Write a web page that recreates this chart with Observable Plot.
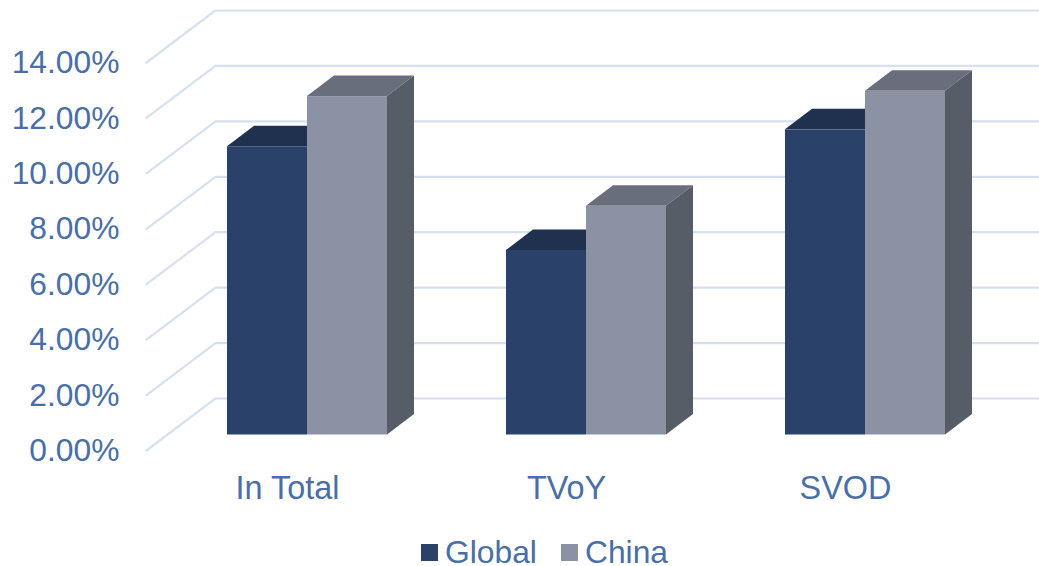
<!DOCTYPE html>
<html>
<head>
<meta charset="utf-8">
<script src="https://cdn.jsdelivr.net/npm/d3@7"></script>
<script src="https://cdn.jsdelivr.net/npm/@observablehq/plot@0.6"></script>
<style>
  html, body { margin: 0; padding: 0; background: #fff; overflow: hidden; }
  #legend { display: flex; align-items: center; height: 28px; margin-top: 12px; margin-left: 421px;
    font: 31.8px/26px "Liberation Sans", Arial, sans-serif; color: #4a6ea6; }
  #legend i { display: inline-block; width: 17px; height: 17px; margin-right: 7px; }
  #legend span { margin-right: 24px; }
</style>
</head>
<body>
<div id="chart"></div>
<div id="legend"></div>
<script>
const categories = ["In Total", "TVoY", "SVOD"];
const globalValues = [10.4, 6.66, 11.01];
const chinaValues = [12.21, 8.25, 12.4];
const yTicks = [0, 2, 4, 6, 8, 10, 12, 14];
const seriesNames = ["Global", "China"];

const colors = {
  Global: {front: "#2a4269", top: "#1f314f", side: "#1f314f"},
  China: {front: "#8a92a4", top: "#686e7b", side: "#575d67"}
};
const labelColor = "#4a6ea6";
const gridColor = "#d6e0ef";

// Depth of the 3D plot, in scale units
const wallX = 69 / 279, wallY = 52 / 27.71;
const depthX = 27 / 279, depthY = 20.5 / 27.71;
const barW = 80 / 279, floor = 15.5 / 27.71;
const frontLeft = -161 / 279, rightEnd = 732 / 279;

const gridPts = yTicks.flatMap(v => [
  {t: v, x: frontLeft, y: v},
  {t: v, x: frontLeft + wallX, y: v + wallY},
  {t: v, x: rightEnd, y: v + wallY}
]);

const bars = (values, off) => values.map((v, i) => ({
  i, x1: i + off, x2: i + off + barW, y1: floor, y2: floor + v
}));
const g = bars(globalValues, -barW);
const c = bars(chinaValues, 0);

const topFace = rows => rows.flatMap(b => [
  {id: b.i, x: b.x1, y1: b.y2, y2: b.y2},
  {id: b.i, x: b.x1 + depthX, y1: b.y2, y2: b.y2 + depthY},
  {id: b.i, x: b.x2, y1: b.y2, y2: b.y2 + depthY},
  {id: b.i, x: b.x2 + depthX, y1: b.y2 + depthY, y2: b.y2 + depthY}
]);
const sideFace = rows => rows.flatMap(b => [
  {id: b.i, x: b.x2, y1: b.y1, y2: b.y2},
  {id: b.i, x: b.x2 + depthX, y1: b.y1 + depthY, y2: b.y2 + depthY}
]);
const areaOpts = fill => ({x: "x", y1: "y1", y2: "y2", z: "id", fill, curve: "linear"});
const rectOpts = fill => ({x1: "x1", x2: "x2", y1: "y1", y2: "y2", fill, inset: 0});

const chart = Plot.plot({
  width: 1039,
  height: 526,
  marginLeft: 120,
  marginRight: 0,
  marginTop: 0,
  marginBottom: 51,
  style: {background: "#fff", fontFamily: '"Liberation Sans", Arial, sans-serif'},
  x: {domain: [0, 2], range: [307, 865]},
  y: {domain: [0, 14], range: [450, 62]},
  marks: [
    Plot.line(gridPts, {x: "x", y: "y", z: "t", stroke: gridColor, strokeWidth: 2.2}),
    Plot.areaY(topFace(g), areaOpts(colors.Global.top)),
    Plot.rect(g, rectOpts(colors.Global.front)),
    Plot.areaY(topFace(c), areaOpts(colors.China.top)),
    Plot.areaY(sideFace(c), areaOpts(colors.China.side)),
    Plot.rect(c, rectOpts(colors.China.front)),
    Plot.axisY({
      ticks: yTicks, tickSize: 0, tickPadding: 1, label: null, dy: 0.5,
      tickFormat: d => d.toFixed(2) + "%", fontSize: 31.8, fill: labelColor
    }),
    Plot.axisX({
      ticks: [0, 1, 2], tickSize: 0, tickPadding: 0, label: null, dx: -20,
      tickFormat: i => categories[i], fontSize: 32.4, fill: labelColor
    })
  ]
});
document.getElementById("chart").appendChild(chart);

const legend = document.getElementById("legend");
seriesNames.forEach(name => {
  const sw = document.createElement("i");
  sw.style.background = colors[name].front;
  const lab = document.createElement("span");
  lab.textContent = name;
  legend.append(sw, lab);
});
</script>
</body>
</html>
